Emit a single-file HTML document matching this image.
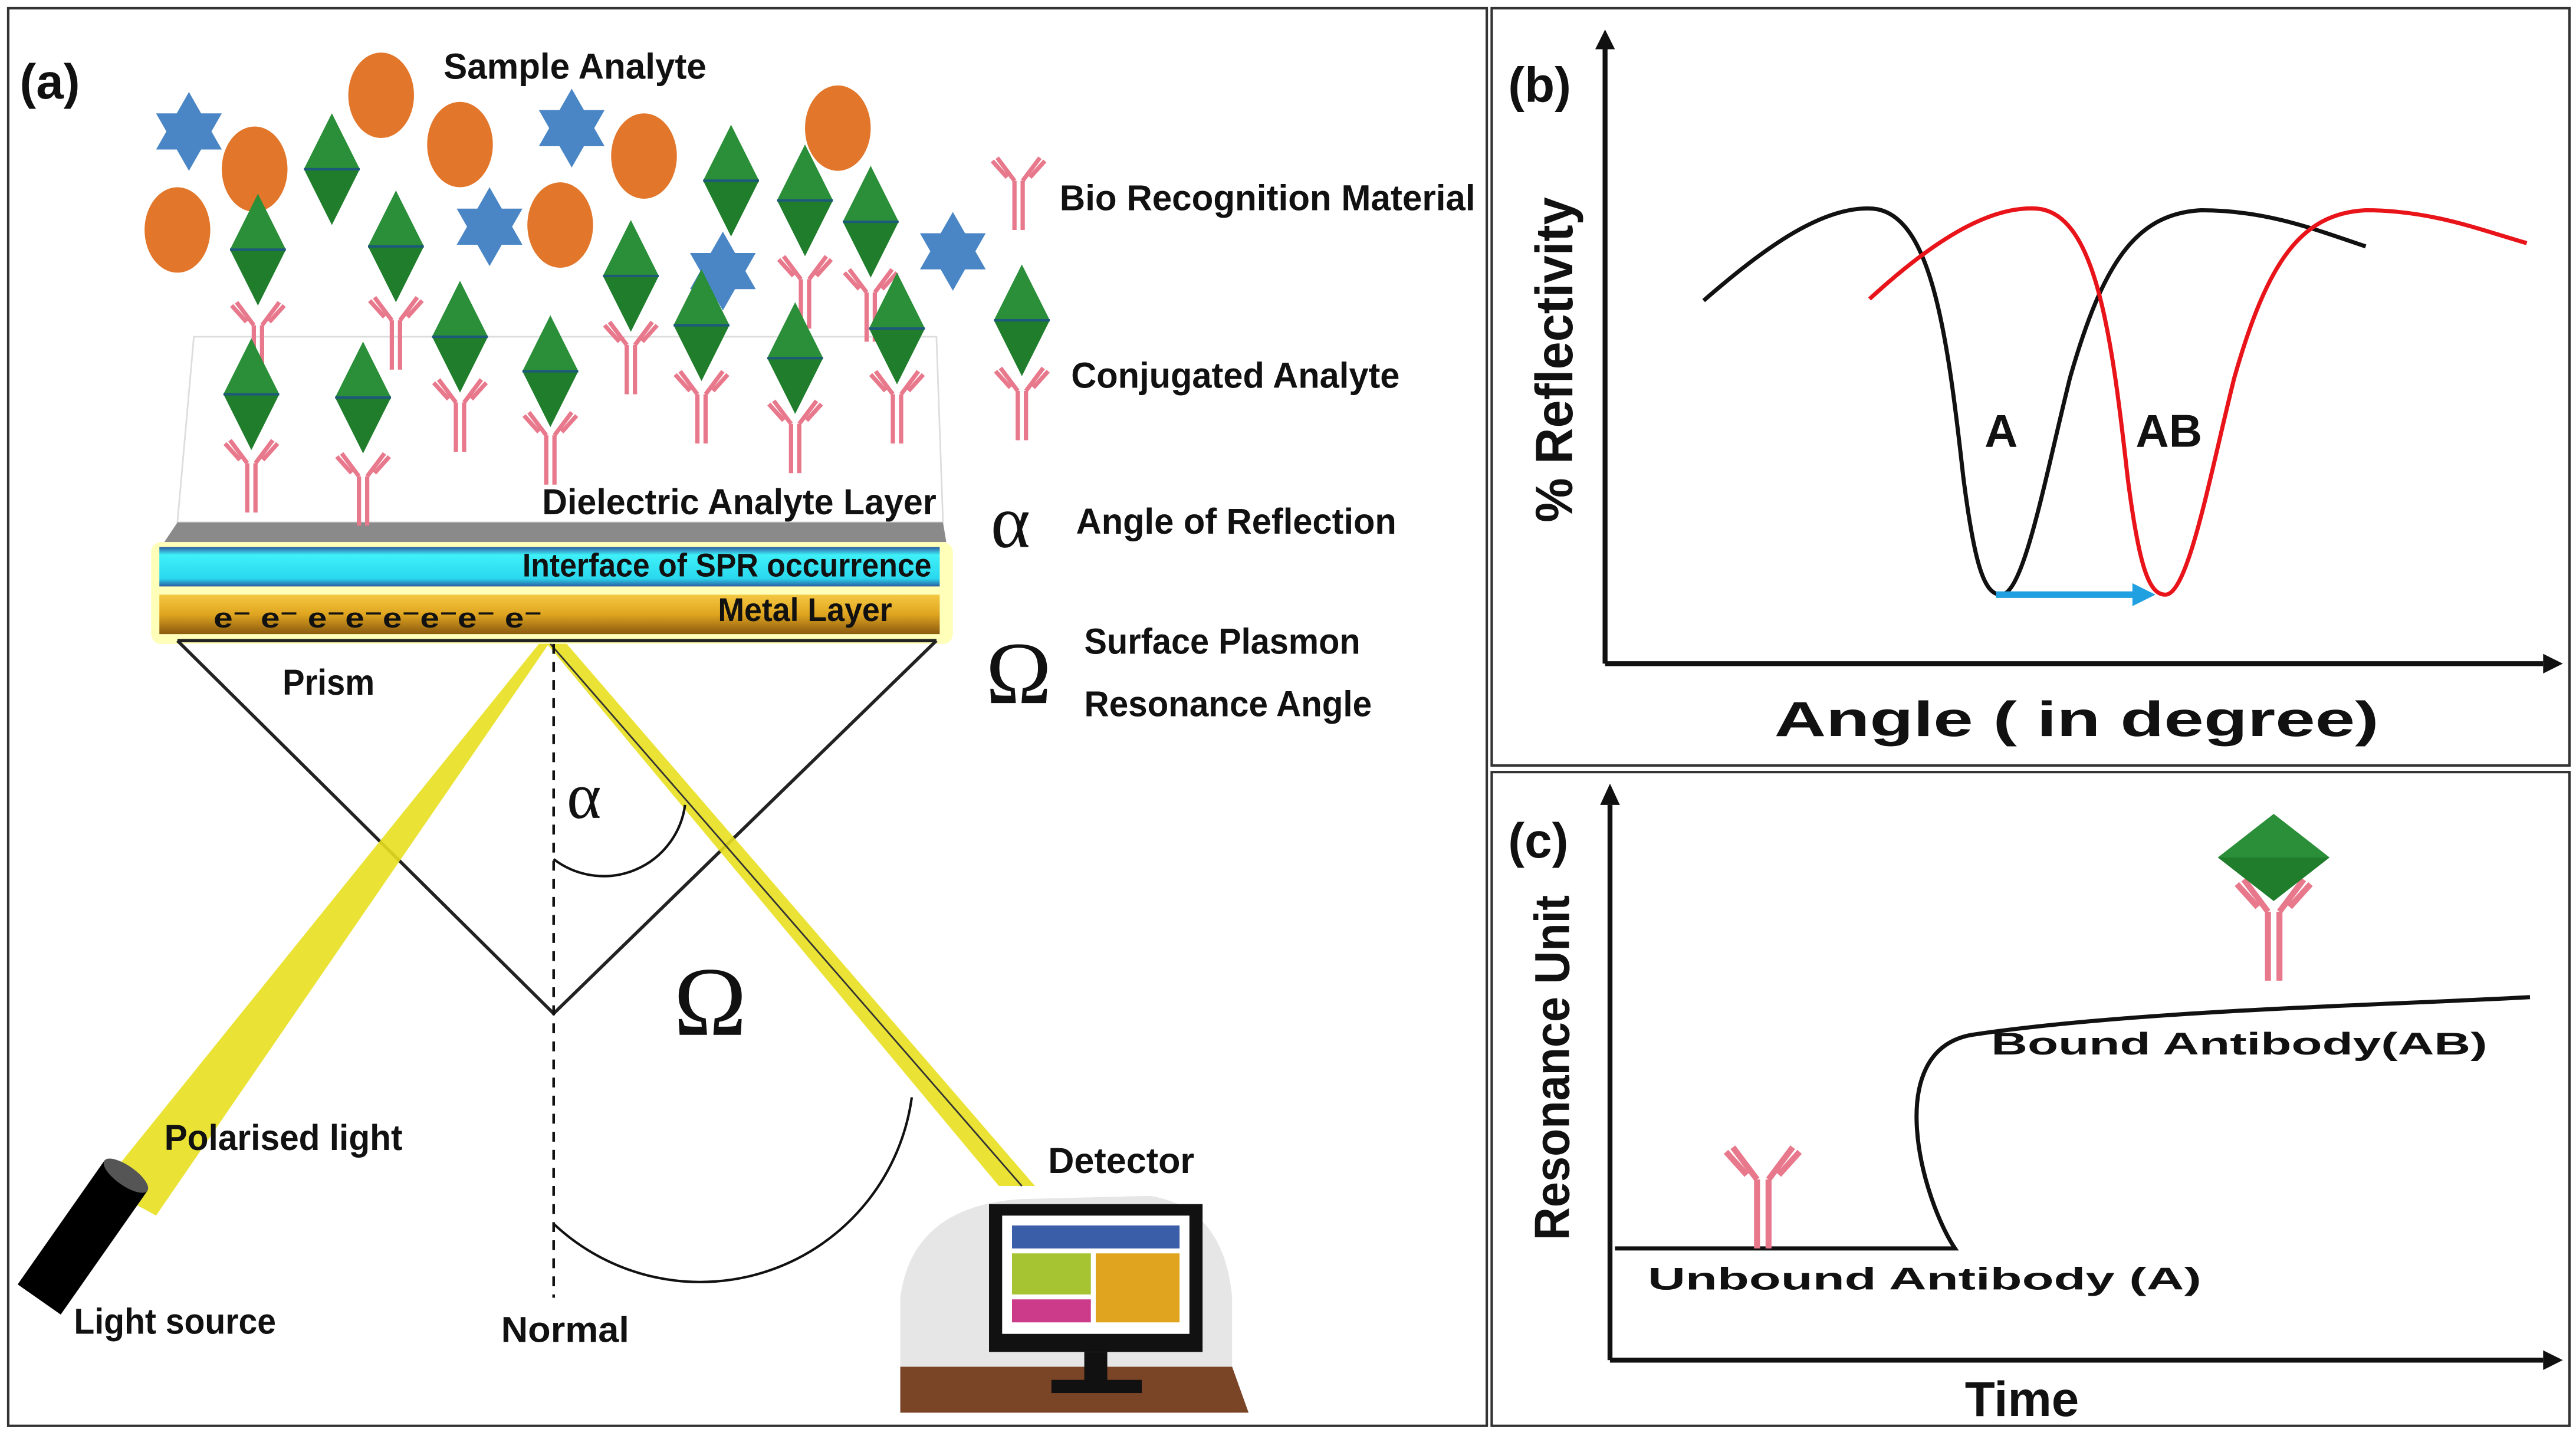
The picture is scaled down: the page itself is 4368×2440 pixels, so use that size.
<!DOCTYPE html>
<html><head><meta charset="utf-8"><style>
html,body{margin:0;padding:0;background:#fff}
svg{display:block}
text{font-family:"Liberation Sans Narrow","Liberation Sans",sans-serif;font-weight:bold;fill:#111}
.w{font-family:"Liberation Sans",sans-serif}
.s{font-family:"Liberation Serif",serif;font-weight:normal}
</style></head><body>
<svg width="4368" height="2440" viewBox="0 0 1568 876" preserveAspectRatio="none" xmlns="http://www.w3.org/2000/svg">
<defs>
<g id="ab" fill="none" stroke="#e8788c" stroke-width="2.6">
<line x1="-2.5" y1="0" x2="-2.5" y2="30"/><line x1="2.5" y1="0" x2="2.5" y2="30"/>
<line x1="-2.5" y1="0" x2="-13" y2="-14"/><line x1="-7" y1="-2" x2="-16" y2="-12"/>
<line x1="2.5" y1="0" x2="13" y2="-14"/><line x1="7" y1="-2" x2="16" y2="-12"/>
</g>
<g id="dm"><polygon points="0,-34 17,0 0,34 -17,0" fill="#1f7d2c"/><polygon points="0,-34 17,0 -17,0" fill="#2a8f38"/><line x1="-17" y1="0" x2="17" y2="0" stroke="#1d5a7a" stroke-width="1.5"/></g>
<g id="st" fill="#4a86c5"><polygon points="0,-24 20,11 -20,11"/><polygon points="0,24 20,-11 -20,-11"/></g>
<linearGradient id="gold" x1="0" y1="0" x2="0" y2="1"><stop offset="0" stop-color="#f5c842"/><stop offset=".5" stop-color="#e0a520"/><stop offset="1" stop-color="#8a5a10"/></linearGradient>
<linearGradient id="cy" x1="0" y1="0" x2="0" y2="1"><stop offset="0" stop-color="#2a5aa0"/><stop offset=".2" stop-color="#3ff0f8"/><stop offset=".8" stop-color="#2ad8ee"/><stop offset="1" stop-color="#2a5aa0"/></linearGradient>
</defs>
<rect width="1568" height="876" fill="#fff"/>
<rect x="5" y="5" width="900" height="863" fill="none" stroke="#333" stroke-width="1.5"/>
<rect x="908" y="5" width="656" height="461" fill="none" stroke="#333" stroke-width="1.5"/>
<rect x="908" y="470" width="656" height="398" fill="none" stroke="#333" stroke-width="1.5"/>

<!-- panel a -->
<text x="12" y="60" font-size="30" class="w">(a)</text>
<text x="270" y="48" font-size="22" textLength="160" lengthAdjust="spacingAndGlyphs">Sample Analyte</text>
<polygon points="118,205 570,205 574,318 108,318" fill="#fff" stroke="#ddd" stroke-width="1"/>
<polygon points="108,318 574,318 576,330 100,330" fill="#8a8a8a"/>
<rect x="92" y="330" width="488" height="62" fill="#ffff80" opacity=".55" rx="6"/>
<rect x="97" y="333" width="475" height="24" fill="url(#cy)"/>
<rect x="97" y="362" width="475" height="24" fill="url(#gold)"/>
<text x="318" y="351" font-size="20" textLength="249" lengthAdjust="spacingAndGlyphs">Interface of SPR occurrence</text>
<text x="437" y="378" font-size="20" textLength="106" lengthAdjust="spacingAndGlyphs">Metal Layer</text>
<text x="130" y="382" font-size="17" textLength="200" lengthAdjust="spacingAndGlyphs">e⁻ e⁻ e⁻e⁻e⁻e⁻e⁻ e⁻</text>
<text x="330" y="313" font-size="22" textLength="240" lengthAdjust="spacingAndGlyphs">Dielectric Analyte Layer</text>
<g fill="#e2762b">
<ellipse cx="232" cy="58" rx="20" ry="26"/><ellipse cx="155" cy="103" rx="20" ry="26"/><ellipse cx="280" cy="88" rx="20" ry="26"/>
<ellipse cx="108" cy="140" rx="20" ry="26"/><ellipse cx="341" cy="137" rx="20" ry="26"/><ellipse cx="392" cy="95" rx="20" ry="26"/><ellipse cx="510" cy="78" rx="20" ry="26"/>
</g>
<use href="#st" x="115" y="80"/><use href="#st" x="348" y="78"/><use href="#st" x="298" y="138"/><use href="#st" x="440" y="165"/><use href="#st" x="580" y="153"/>
<use href="#ab" x="157" y="198"/><use href="#ab" x="241" y="195"/><use href="#ab" x="280" y="245"/><use href="#ab" x="335" y="265"/>
<use href="#ab" x="384" y="210"/><use href="#ab" x="427" y="240"/><use href="#ab" x="484" y="258"/><use href="#ab" x="546" y="240"/>
<use href="#ab" x="153" y="282"/><use href="#ab" x="221" y="290"/><use href="#ab" x="490" y="170"/><use href="#ab" x="530" y="178"/>
<use href="#ab" x="622" y="238"/><use href="#ab" x="620" y="110"/>
<use href="#dm" x="202" y="103"/><use href="#dm" x="157" y="152"/><use href="#dm" x="241" y="150"/><use href="#dm" x="384" y="168"/>
<use href="#dm" x="445" y="110"/><use href="#dm" x="490" y="122"/><use href="#dm" x="530" y="135"/><use href="#dm" x="427" y="198"/>
<use href="#dm" x="484" y="218"/><use href="#dm" x="546" y="200"/><use href="#dm" x="280" y="205"/><use href="#dm" x="335" y="226"/>
<use href="#dm" x="153" y="240"/><use href="#dm" x="221" y="242"/><use href="#dm" x="622" y="195"/>
<text x="645" y="128" font-size="22" textLength="253" lengthAdjust="spacingAndGlyphs">Bio Recognition Material</text>
<text x="652" y="236" font-size="22" textLength="200" lengthAdjust="spacingAndGlyphs">Conjugated Analyte</text>
<text x="603" y="333" font-size="46" class="s">α</text>
<text x="655" y="325" font-size="22" textLength="195" lengthAdjust="spacingAndGlyphs">Angle of Reflection</text>
<text x="600" y="428" font-size="54" class="s">Ω</text>
<text x="660" y="398" font-size="22" textLength="168" lengthAdjust="spacingAndGlyphs">Surface Plasmon</text>
<text x="660" y="436" font-size="22" textLength="175" lengthAdjust="spacingAndGlyphs">Resonance Angle</text>
<polyline points="108,390 337,617 570,390" fill="none" stroke="#222" stroke-width="2"/>
<line x1="108" y1="390" x2="570" y2="390" stroke="#222" stroke-width="2"/>
<text x="172" y="423" font-size="22" textLength="56" lengthAdjust="spacingAndGlyphs">Prism</text>
<polygon points="328,392 334,392 95,740 62,722" fill="#e8e020" opacity=".9"/>
<polygon points="333,392 345,392 630,722 608,722" fill="#e8e020" opacity=".9"/>
<line x1="335" y1="392" x2="622" y2="722" stroke="#333" stroke-width="1"/>
<line x1="337" y1="392" x2="337" y2="790" stroke="#111" stroke-width="1.6" stroke-dasharray="6,5"/>
<path d="M337,523 A50,50 0 0 0 417,490" fill="none" stroke="#111" stroke-width="1.5"/>
<path d="M337,745 A130,130 0 0 0 555,668" fill="none" stroke="#111" stroke-width="1.5"/>
<text x="345" y="498" font-size="40" class="s">α</text>
<text x="410" y="630" font-size="60" class="s">Ω</text>
<g transform="translate(50,752) rotate(35)"><rect x="-15" y="-45" width="32" height="92" fill="#000"/><ellipse cx="1" cy="-45" rx="16" ry="6" fill="#555"/></g>
<text x="100" y="700" font-size="22" textLength="145" lengthAdjust="spacingAndGlyphs">Polarised light</text>
<text x="45" y="812" font-size="22" textLength="123" lengthAdjust="spacingAndGlyphs">Light source</text>
<text x="305" y="817" font-size="22" textLength="78" lengthAdjust="spacingAndGlyphs">Normal</text>
<text x="638" y="714" font-size="22" textLength="89" lengthAdjust="spacingAndGlyphs">Detector</text>
<path d="M548,860 L548,790 Q555,735 620,730 L700,728 Q745,735 750,790 L750,860 Z" fill="#e6e6e6"/>
<polygon points="548,832 750,832 760,860 548,860" fill="#7a4426"/>
<rect x="602" y="733" width="130" height="90" fill="#111"/>
<rect x="610" y="740" width="114" height="72" fill="#fff"/>
<rect x="616" y="746" width="102" height="14" fill="#3a5ea8"/>
<rect x="616" y="763" width="48" height="25" fill="#a6c432"/>
<rect x="667" y="763" width="51" height="42" fill="#e0a41e"/>
<rect x="616" y="791" width="48" height="14" fill="#cc3a8a"/>
<rect x="660" y="823" width="14" height="20" fill="#111"/><rect x="640" y="840" width="55" height="8" fill="#111"/>

<!-- panel b -->
<text x="918" y="62" font-size="30" class="w">(b)</text>
<line x1="977" y1="30" x2="977" y2="404" stroke="#111" stroke-width="3"/>
<polygon points="971,30 983,30 977,18" fill="#111"/>
<line x1="977" y1="404" x2="1548" y2="404" stroke="#111" stroke-width="3"/>
<polygon points="1548,398 1548,410 1560,404" fill="#111"/>
<text transform="translate(957,318) rotate(-90)" font-size="32" class="w" textLength="198" lengthAdjust="spacingAndGlyphs">% Reflectivity</text>
<text x="1080" y="448" font-size="30" class="w" textLength="368" lengthAdjust="spacingAndGlyphs">Angle ( in degree)</text>
<path d="M1037,183 C1075,150 1110,125 1140,127 C1175,130 1185,200 1195,290 C1202,345 1208,362 1218,362 C1232,362 1245,290 1260,230 C1280,160 1300,130 1340,128 C1380,128 1410,140 1440,150" fill="none" stroke="#111" stroke-width="2.5"/>
<path d="M1138,182 C1175,148 1210,125 1240,127 C1275,130 1285,200 1295,290 C1302,345 1308,362 1318,362 C1332,362 1345,290 1360,230 C1380,160 1400,130 1440,128 C1480,128 1510,140 1538,148" fill="none" stroke="#e8141a" stroke-width="2.5"/>
<line x1="1215" y1="362" x2="1300" y2="362" stroke="#20a0e0" stroke-width="4"/>
<polygon points="1298,355 1298,369 1312,362" fill="#20a0e0"/>
<text x="1208" y="272" font-size="28" class="w">A</text>
<text x="1300" y="272" font-size="28" class="w">AB</text>

<!-- panel c -->
<text x="918" y="522" font-size="30" class="w">(c)</text>
<line x1="980" y1="490" x2="980" y2="828" stroke="#111" stroke-width="3"/>
<polygon points="974,490 986,490 980,477" fill="#111"/>
<line x1="980" y1="828" x2="1548" y2="828" stroke="#111" stroke-width="3"/>
<polygon points="1548,822 1548,834 1560,828" fill="#111"/>
<text transform="translate(955,755) rotate(-90)" font-size="30" class="w" textLength="210" lengthAdjust="spacingAndGlyphs">Resonance Unit</text>
<text x="1196" y="862" font-size="30" class="w">Time</text>
<path d="M983,760 L1190,760 C1170,730 1145,640 1200,630 C1300,615 1450,612 1540,607" fill="none" stroke="#111" stroke-width="2.5"/>
<text x="1212" y="642" font-size="19" class="w" textLength="302" lengthAdjust="spacingAndGlyphs">Bound Antibody(AB)</text>
<text x="1003" y="785" font-size="19" class="w" textLength="337" lengthAdjust="spacingAndGlyphs">Unbound Antibody (A)</text>
<g transform="translate(1073,718) scale(1.4)"><use href="#ab"/></g>
<g transform="translate(1384,555) scale(1.4)"><use href="#ab"/></g>
<g transform="translate(1384,522) scale(1.0,0.78)"><polygon points="0,-34 34,0 0,34 -34,0" fill="#1f7d2c"/><polygon points="0,-34 34,0 -34,0" fill="#2a8f38"/></g>
</svg>
</body></html>
